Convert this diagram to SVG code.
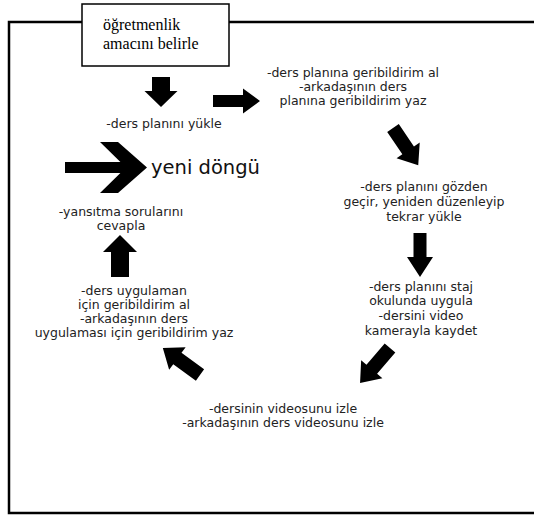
<svg xmlns="http://www.w3.org/2000/svg" width="534" height="515" viewBox="0 0 534 515">
<style>
.t{font-family:"DejaVu Sans",Verdana,sans-serif;font-size:12.5px;fill:#222;text-anchor:middle}
.big{font-family:"DejaVu Sans",Verdana,sans-serif;font-size:19.5px;fill:#111}
.serif{font-family:"Liberation Serif","Times New Roman",serif;font-size:16px;fill:#000}
.a{fill:#000}
</style>
<rect width="534" height="515" fill="#fff"/>
<rect id="frame" x="9" y="22" width="540" height="491" fill="none" stroke="#000" stroke-width="2.5"/>
<g id="start">
<rect x="82" y="4" width="147" height="62" fill="#fff" stroke="#000" stroke-width="1.5"/>
<text class="serif" x="103" y="30">öğretmenlik</text>
<text class="serif" x="103" y="49">amacını belirle</text>
</g>
<g id="n1"><text class="t" x="164" y="128">-ders planını yükle</text></g>
<g id="n2">
<text class="t" x="353" y="77">-ders planına geribildirim al</text>
<text class="t" x="353" y="91">-arkadaşının ders</text>
<text class="t" x="353" y="105">planına geribildirim yaz</text>
</g>
<g id="n3">
<text class="t" x="424" y="191">-ders planını gözden</text>
<text class="t" x="424" y="206">geçir, yeniden düzenleyip</text>
<text class="t" x="424" y="221">tekrar yükle</text>
</g>
<g id="n4">
<text class="t" x="421" y="291">-ders planını staj</text>
<text class="t" x="421" y="305">okulunda uygula</text>
<text class="t" x="421" y="320">-dersini video</text>
<text class="t" x="421" y="335">kamerayla kaydet</text>
</g>
<g id="n5">
<text class="t" x="283" y="413">-dersinin videosunu izle</text>
<text class="t" x="283" y="427">-arkadaşının ders videosunu izle</text>
</g>
<g id="n6">
<text class="t" x="134" y="295">-ders uygulaman</text>
<text class="t" x="134" y="309">için geribildirim al</text>
<text class="t" x="134" y="323">-arkadaşının ders</text>
<text class="t" x="134" y="337">uygulaması için geribildirim yaz</text>
</g>
<g id="n7">
<text class="t" x="121" y="216">-yansıtma sorularını</text>
<text class="t" x="121" y="230">cevapla</text>
</g>
<g id="n8">
<text class="big" x="151" y="174">yeni döngü</text>
</g>
<g id="connectors" class="a">
<path transform="translate(161,77) rotate(90)" d="M0,-9 H14 V-16.5 L30,0 L14,16.5 V9 H0 Z"/>
<path transform="translate(213,101)" d="M0,-6 H30 V-12.5 L47,0 L30,12.5 V6 H0 Z"/>
<path transform="translate(393,128) rotate(55.9)" d="M0,-7 H27 V-14 L45,0 L27,14 V7 H0 Z"/>
<path transform="translate(420,233) rotate(90)" d="M0,-6.5 H24 V-13 L44,0 L24,13 V6.5 H0 Z"/>
<path transform="translate(390,348) rotate(130.6)" d="M0,-7 H28 V-14 L46,0 L28,14 V7 H0 Z"/>
<path transform="translate(200,375) rotate(-143.9)" d="M0,-7 H28 V-14 L46,0 L28,14 V7 H0 Z"/>
<path transform="translate(120,277) rotate(-90)" d="M0,-9 H25 V-17 L42,0 L25,17 V9 H0 Z"/>
<path d="M65,162 H126 V173 H65 Z M100,142 H118 L147,167.5 L118,193 H100 L126,167.5 Z"/>
</g>
</svg>
